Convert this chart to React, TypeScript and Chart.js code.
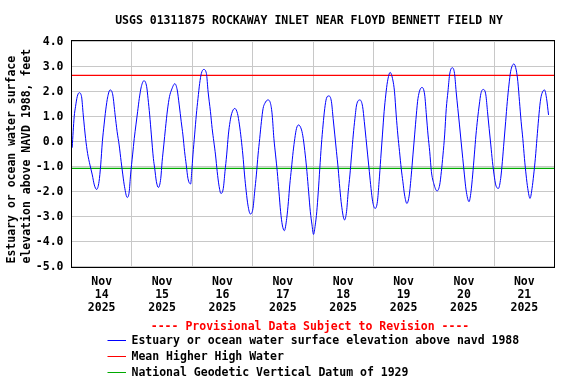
import React, { useEffect, useRef } from 'react';
import { Chart, registerables } from 'chart.js';

Chart.register(...registerables);

const TITLE = 'USGS 01311875 ROCKAWAY INLET NEAR FLOYD BENNETT FIELD NY';
const Y_TITLE = ['Estuary or ocean water surface', 'elevation above NAVD 1988, feet'];
const NOTE = '---- Provisional Data Subject to Revision ----';

const months = ['Nov', 'Nov', 'Nov', 'Nov', 'Nov', 'Nov', 'Nov', 'Nov'];
const dayNums = ['14', '15', '16', '17', '18', '19', '20', '21'];
const years = ['2025', '2025', '2025', '2025', '2025', '2025', '2025', '2025'];

const seriesLabels = [
  'Estuary or ocean water surface elevation above navd 1988',
  'Mean Higher High Water',
  'National Geodetic Vertical Datum of 1929',
];
const seriesColors = ['#0000ff', '#ff0000', '#00aa00'];

// hours since Nov 14 2025 00:00
const hours = [
  0.27, 1.07, 1.6, 2.27, 3.07, 4.0, 4.67, 5.6, 6.4, 7.34, 8.27, 9.07, 10.0, 10.94, 11.61, 12.27, 12.94, 13.61, 14.41,
  15.34, 16.41, 17.34, 18.14, 18.94, 19.74, 20.41, 21.08, 22.14, 22.94, 23.48, 24.28, 24.95, 25.61, 26.28, 26.95,
  27.75, 28.81, 29.88, 30.42, 31.08, 31.75, 32.55, 33.08, 33.75, 34.55, 35.48, 36.02, 36.69, 37.35, 38.15, 38.95,
  39.75, 41.09, 42.02, 42.82, 43.62, 44.29, 44.96, 45.62, 46.29, 47.36, 47.8, 48.27, 48.94, 49.61, 50.28, 50.95,
  51.62, 52.56, 53.63, 54.3, 55.24, 55.91, 56.58, 57.25, 57.92, 58.59, 59.4, 60.34, 61.01, 61.68, 62.35, 63.02,
  63.69, 64.9, 65.97, 66.77, 67.44, 68.12, 68.79, 69.46, 70.13, 71.07, 72.14, 72.81, 73.48, 74.15, 74.82, 75.49,
  76.16, 76.83, 78.04, 79.11, 79.78, 80.45, 81.12, 81.79, 82.46, 83.13, 83.8, 84.61, 85.55, 86.22, 86.76, 87.43,
  88.1, 88.77, 89.44, 90.24, 91.45, 92.12, 92.92, 93.59, 94.26, 94.94, 95.61, 96.2, 96.9, 97.5, 98.1, 98.7, 99.33,
  100.0, 100.67, 101.33, 102.27, 103.33, 104.0, 104.67, 105.33, 106.0, 106.67, 107.33, 108.53, 109.33, 110.0,
  110.67, 111.33, 112.0, 112.67, 113.33, 114.67, 115.73, 116.4, 117.07, 117.73, 118.4, 119.07, 119.73, 120.67,
  121.6, 122.27, 122.93, 123.6, 124.27, 124.93, 125.6, 126.67, 127.73, 128.4, 129.07, 129.73, 130.4, 131.07,
  131.73, 132.4, 133.33, 134.27, 135.07, 135.73, 136.4, 137.07, 137.73, 139.33, 140.4, 141.07, 141.73, 142.4,
  143.07, 144.0, 145.31, 146.36, 147.02, 147.67, 148.33, 148.98, 149.64, 150.29, 151.34, 152.26, 152.91, 153.57,
  154.23, 154.88, 155.54, 156.19, 156.85, 158.03, 158.81, 159.47, 160.13, 160.78, 161.44, 162.09, 162.75, 163.67,
  164.71, 165.37, 166.02, 166.68, 167.34, 167.99, 168.65, 169.7, 170.61, 171.27, 171.92, 172.58, 173.23, 173.89,
  174.55, 175.86, 176.78, 177.43, 178.09, 178.74, 179.4, 180.06, 180.71, 181.37, 182.28, 183.07, 183.72, 184.38,
  185.03, 185.69, 186.35, 187.0, 188.05, 188.84, 189.63,
];

// water level, feet above NAVD 1988
const level = [
  -0.24, 1.0, 1.4, 1.8, 1.96, 1.8, 1.07, 0.13, -0.47, -0.93, -1.33, -1.73, -1.91, -1.6, -0.93, 0.0, 0.67, 1.27, 1.8,
  2.07, 1.87, 1.07, 0.4, -0.13, -0.8, -1.33, -1.8, -2.23, -2.0, -1.33, -0.53, 0.13, 0.67, 1.2, 1.73,
  2.2, 2.44, 2.2, 1.73, 1.07, 0.27, -0.67, -1.07, -1.6, -1.83, -1.47, -0.8, -0.13, 0.53, 1.27, 1.8,
  2.07, 2.32, 2.07, 1.47, 0.8, 0.27, -0.4, -0.93, -1.47, -1.69, -1.2, -0.53, 0.27, 1.07, 1.73, 2.33,
  2.73, 2.89, 2.73, 2.0, 1.2, 0.53, 0.0, -0.53, -1.2, -1.73, -2.07, -1.87, -1.2, -0.53, 0.27, 0.8,
  1.13, 1.33, 1.13, 0.67, 0.13, -0.53, -1.33, -2.0, -2.53, -2.89, -2.67, -2.0, -1.33, -0.53, 0.13, 0.8,
  1.33, 1.53, 1.67, 1.53, 1.07, 0.13, -0.53, -1.2, -2.0, -2.8, -3.33, -3.56, -3.07, -2.4, -1.73, -1.07,
  -0.4, 0.13, 0.53, 0.67, 0.47, 0.13, -0.53, -1.2, -2.0, -2.8, -3.33, -3.71, -3.33, -2.8, -2.0, -1.07, -0.13,
  0.67, 1.33, 1.73, 1.83, 1.6, 0.93, 0.27, -0.4, -1.07, -1.87, -2.53, -3.13, -2.8, -2.0,
  -1.33, -0.53, 0.27, 0.93, 1.47, 1.67, 1.4, 0.8, 0.13, -0.53, -1.2, -1.87, -2.4, -2.67,
  -2.4, -1.6, -0.67, 0.27, 1.2, 1.87, 2.4, 2.77, 2.47, 2.0, 1.07, 0.27, -0.4, -1.07,
  -1.6, -2.13, -2.47, -2.13, -1.33, -0.53, 0.27, 1.07, 1.73, 2.17, 1.87, 1.07, 0.27, -0.4,
  -1.2, -1.67, -1.97, -1.73, -1.2, -0.53, 0.27, 1.33, 2.0, 2.67, 2.96, 2.73, 2.0, 1.33,
  0.67, 0.0, -0.67, -1.33, -1.93, -2.4, -2.0, -1.33, -0.53, 0.27, 0.93, 1.47, 1.93, 2.09,
  1.87, 1.2, 0.53, -0.13, -0.8, -1.33, -1.73, -1.87, -1.47, -0.8, 0.0, 0.8, 1.6, 2.27,
  2.8, 3.11, 2.87, 2.4, 1.6, 0.8, 0.13, -0.67, -1.33, -1.87, -2.27, -1.87, -1.33, -0.67,
  0.13, 0.93, 1.6, 1.93, 2.07, 1.73, 1.07,
];

const mhhw = 2.65;
const ngvd29 = -1.07;
const xStart = 0;
const xEnd = 192;

const FONT_FAMILY = '"DejaVu Sans Mono", "Liberation Mono", monospace';
const FONT = `bold 11.5px ${FONT_FAMILY}`;

const textPlugin = {
  id: 'usgsText',
  afterDraw(chart: any) {
    const { ctx, chartArea: ca } = chart;
    ctx.save();
    // plot frame
    ctx.strokeStyle = '#000000';
    ctx.lineWidth = 1;
    ctx.strokeRect(ca.left, ca.top, ca.right - ca.left, ca.bottom - ca.top);

    ctx.font = FONT;
    ctx.fillStyle = '#000000';
    ctx.textBaseline = 'middle';
    // title
    ctx.textAlign = 'center';
    ctx.fillText(TITLE, 309, 21);

    // y-axis title (two lines, rotated)
    ctx.save();
    ctx.translate(12.3, 263.5);
    ctx.rotate(-Math.PI / 2);
    ctx.textAlign = 'left';
    ctx.fillText(Y_TITLE[0], 0, 0);
    ctx.fillText(Y_TITLE[1], 0, 15);
    ctx.restore();

    // provisional note
    ctx.textAlign = 'center';
    ctx.fillStyle = '#ff0000';
    ctx.fillText(NOTE, 310, 327.5);

    // legend
    const ds = chart.data.datasets;
    const rows = [340.5, 356.5, 372.5];
    ds.forEach((d: any, i: number) => {
      const y = rows[i];
      ctx.strokeStyle = d.borderColor;
      ctx.lineWidth = 1;
      ctx.beginPath();
      ctx.moveTo(107.5, Math.round(y) - 0.5);
      ctx.lineTo(126, Math.round(y) - 0.5);
      ctx.stroke();
      ctx.fillStyle = '#000000';
      ctx.textAlign = 'left';
      ctx.fillText(d.label, 131.5, y + 0.5);
    });
    ctx.restore();
  },
};

export default function App() {
  const ref = useRef<HTMLCanvasElement | null>(null);

  useEffect(() => {
    if (!ref.current) return;
    const points = hours.map((h, i) => ({ x: h, y: level[i] }));
    const chart = new Chart(ref.current, {
      type: 'line',
      data: {
        datasets: [
          {
            label: seriesLabels[0],
            data: points,
            borderColor: seriesColors[0],
            borderWidth: 1,
            pointRadius: 0,
            cubicInterpolationMode: 'monotone',
          },
          {
            label: seriesLabels[1],
            data: [
              { x: xStart, y: mhhw },
              { x: xEnd, y: mhhw },
            ],
            borderColor: seriesColors[1],
            borderWidth: 1.2,
            pointRadius: 0,
          },
          {
            label: seriesLabels[2],
            data: [
              { x: xStart, y: ngvd29 },
              { x: xEnd, y: ngvd29 },
            ],
            borderColor: seriesColors[2],
            borderWidth: 1.2,
            pointRadius: 0,
          },
        ],
      },
      options: {
        animation: false,
        responsive: false,
        devicePixelRatio: 1,
        layout: { padding: { top: 40.5, right: 21.5, bottom: 0, left: 0 } },
        plugins: {
          legend: { display: false },
          title: { display: false },
          tooltip: { enabled: false },
        },
        scales: {
          x: {
            type: 'linear',
            min: xStart,
            max: xEnd,
            afterFit: (s: any) => {
              s.height = 116.5;
            },
            border: { display: false },
            grid: {
              drawTicks: false,
              lineWidth: 1,
              color: (c: any) =>
                c.tick && c.tick.value % 24 === 0 ? '#c8c8c8' : 'rgba(0,0,0,0)',
            },
            ticks: {
              stepSize: 12,
              autoSkip: false,
              maxRotation: 0,
              minRotation: 0,
              padding: 8.5,
              color: '#000000',
              font: { family: FONT_FAMILY, size: 11.5, weight: 'bold', lineHeight: 1.11 },
              callback: (v: any) => {
                const n = Number(v);
                if (n % 24 !== 12) return '';
                const i = (n - 12) / 24;
                return [months[i], dayNums[i], years[i]];
              },
            },
          },
          y: {
            type: 'linear',
            min: -5.032,
            max: 4.048,
            afterFit: (s: any) => {
              s.width = 71.5;
            },
            border: { display: false },
            grid: { drawTicks: false, color: '#c8c8c8', lineWidth: 1 },
            ticks: {
              stepSize: 1,
              includeBounds: false,
              padding: 8,
              color: '#000000',
              font: { family: FONT_FAMILY, size: 11.5, weight: 'bold' },
              callback: (v: any) => Number(v).toFixed(1),
            },
          },
        },
      },
      plugins: [textPlugin],
    } as any);
    return () => chart.destroy();
  }, []);

  return (
    <div style={{ position: 'absolute', left: 0, top: 0, width: 576, height: 384, background: '#ffffff' }}>
      <canvas ref={ref} width={576} height={384} style={{ width: 576, height: 384, display: 'block' }} />
    </div>
  );
}
